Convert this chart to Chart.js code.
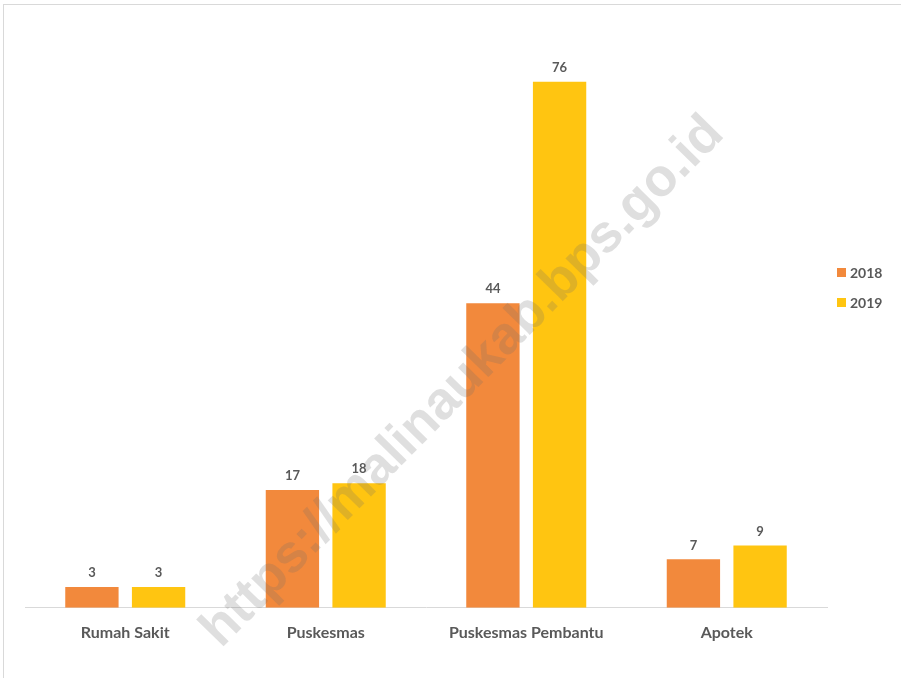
<!DOCTYPE html>
<html>
<head>
<meta charset="utf-8">
<script src="https://cdn.jsdelivr.net/npm/chart.js@4/dist/chart.umd.min.js"></script>
<style>
  html, body { margin: 0; padding: 0; background: #fff; }
  #wrap { position: relative; width: 901px; height: 678px; overflow: hidden; }
  #frame { position: absolute; left: 3px; top: 4px; width: 1000px; height: 1000px;
           border-left: 1px solid #d9d9d9; border-top: 1px solid #d9d9d9; }
  canvas { position: absolute; left: 0; top: 0; }
</style>
</head>
<body>
<div id="wrap">
  <div id="frame"></div>
  <canvas id="chart" width="901" height="678"></canvas>
</div>
<script>
// Jumlah fasilitas kesehatan
const categories = ['Rumah Sakit', 'Puskesmas', 'Puskesmas Pembantu', 'Apotek'];
const years = ['2018', '2019'];
const values2018 = [3, 17, 44, 7];
const values2019 = [3, 18, 76, 9];

const colors = ['#F2893C', '#FFC511'];
const textColor = '#595959';
const fontFamily = 'Lato, "Open Sans", sans-serif';

// value labels above each bar
const barLabels = {
  id: 'barLabels',
  afterDatasetsDraw(chart) {
    const ctx = chart.ctx;
    ctx.save();
    ctx.font = 'bold 13px ' + fontFamily;
    ctx.fillStyle = textColor;
    ctx.textAlign = 'center';
    ctx.textBaseline = 'middle';
    chart.data.datasets.forEach((ds, i) => {
      chart.getDatasetMeta(i).data.forEach((bar, j) => {
        ctx.fillText(ds.data[j], bar.x, bar.y - 14);
      });
    });
    ctx.restore();
  }
};

// legend on the right, drawn by hand so it sits higher than center
const sideLegend = {
  id: 'sideLegend',
  afterDraw(chart) {
    const ctx = chart.ctx;
    ctx.save();
    ctx.font = 'bold 14px ' + fontFamily;
    ctx.textBaseline = 'middle';
    chart.data.datasets.forEach((ds, i) => {
      const y = 273 + i * 30;
      ctx.fillStyle = ds.backgroundColor;
      ctx.fillRect(837, y - 5, 9, 9);
      ctx.fillStyle = textColor;
      ctx.fillText(ds.label, 850, y);
    });
    ctx.restore();
  }
};

// diagonal watermark
const watermark = {
  id: 'watermark',
  afterDraw(chart) {
    const ctx = chart.ctx;
    const text = 'https://malinaukab.bps.go.id';
    ctx.save();
    ctx.translate(463, 382);
    ctx.rotate(-45.5 * Math.PI / 180);
    ctx.font = 'bold 48px "Liberation Sans", Arial, sans-serif';
    const w = ctx.measureText(text).width;
    const s = 720 / w;
    ctx.scale(s, s);
    ctx.fillStyle = 'rgba(110,110,110,0.22)';
    ctx.textAlign = 'center';
    ctx.textBaseline = 'middle';
    ctx.fillText(text, 0, 0);
    ctx.restore();
  }
};

new Chart(document.getElementById('chart'), {
  type: 'bar',
  data: {
    labels: categories,
    datasets: [
      { label: years[0], data: values2018, backgroundColor: colors[0] },
      { label: years[1], data: values2019, backgroundColor: colors[1] }
    ]
  },
  options: {
    responsive: false,
    animation: false,
    events: [],
    categoryPercentage: 0.665,
    barPercentage: 0.8,
    layout: { padding: { left: 25, right: 74, top: 54, bottom: 21 } },
    plugins: {
      legend: { display: false },
      tooltip: { enabled: false }
    },
    scales: {
      x: {
        grid: { display: false, drawTicks: false },
        border: { display: true, color: '#d9d9d9', width: 1 },
        ticks: {
          color: textColor,
          padding: 15,
          font: { family: fontFamily, size: 16, weight: 'bold' }
        }
      },
      y: {
        display: false,
        min: 0,
        max: 80
      }
    }
  },
  plugins: [barLabels, sideLegend, watermark]
});
</script>
</body>
</html>
